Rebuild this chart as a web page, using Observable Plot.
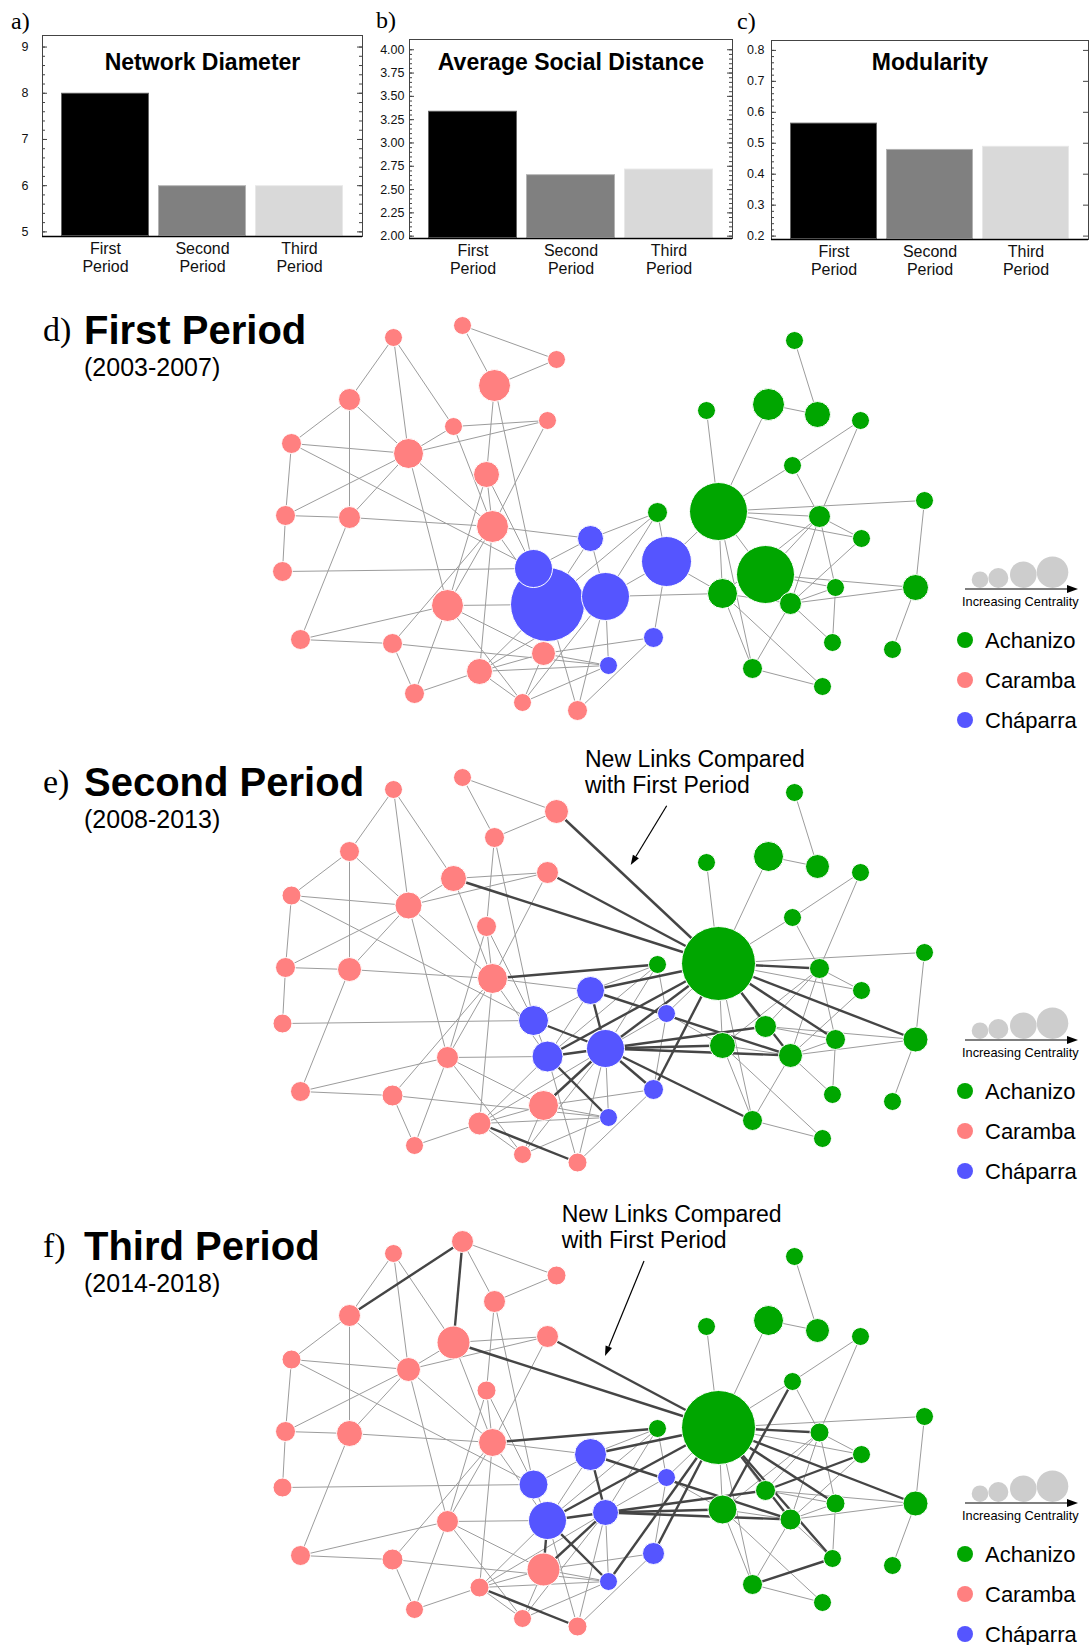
<!DOCTYPE html>
<html><head><meta charset="utf-8">
<script src="https://cdn.jsdelivr.net/npm/d3@7"></script>
<script src="https://cdn.jsdelivr.net/npm/@observablehq/plot@0.6"></script>
<style>
body{margin:0;background:#fff;}
#page{position:relative;width:1089px;height:1645px;overflow:hidden;font-family:"Liberation Sans",Arial,Helvetica,sans-serif;}
</style></head><body><div id="page"></div>
<script>
// ---------- bar chart data ----------
const periods = ["First Period", "Second Period", "Third Period"];
const diameter = [8, 6, 6];
const socialDistance = [3.34, 2.66, 2.72];
const modularity = [0.565, 0.48, 0.49];
const diameterTicks = [5, 6, 7, 8, 9];
const distanceTicks = [2.00, 2.25, 2.50, 2.75, 3.00, 3.25, 3.50, 3.75, 4.00];
const modularityTicks = [0.2, 0.3, 0.4, 0.5, 0.6, 0.7, 0.8];

// ---------- network data ----------
const groups = ["Achanizo", "Caramba", "Cháparra"];
const nodeIds = ["c1","c2","c3","c4","c5","c6","c7","c8","c9","c10","c11","c12","c13","c14","c15","c16","c17","c18","c19","c20","c21","c22",
  "b1","b2","b3","b4","b5","b6","b7",
  "a1","a2","a3","a4","a5","a6","a7","a8","a9","a10","a11","a12","a13","a14","a15","a16","a17","a18","a19","a20"];
const nodeGroup = [...Array(22).fill("Caramba"), ...Array(7).fill("Cháparra"), ...Array(20).fill("Achanizo")];
const layoutX = [393,462,556,494,349,453,547,291,408,486,285,349,492,282,447,300,392,543,479,414,522,577,
  590,533,547,605,666,653,608,
  794,706,768,817,860,792,718,657,819,924,861,765,722,790,835,915,832,892,752,822];
const layoutY = [337,325,359,385,399,426,420,443,453,474,515,517,526,571,605,639,643,653,671,693,702,710,
  538,568,604,596,561,637,665,
  340,410,404,414,420,465,511,512,516,500,538,574,593,603,587,587,642,649,668,686];
const centrality1 = [9,9,9,16,11,9,9,10,15,13,10,11,16,10,16,10,10,12,13,10,9,10,
  13,19,37,24,25,10,9,
  9,9,16,13,9,9,29,10,11,9,9,29,15,11,9,13,9,9,10,9];
const centrality2 = [9,9,12,10,10,13,11,9.5,13.5,10,10,12,15,9.5,11,10,10.5,15,11.5,9,9,9.5,
  14,15,15.5,19,9,10,9,
  9,9,15,12,9,9,37,9,10,9,9,11,13,12,10,12.5,9,9,10,9];
const centrality3 = [9,11,9.5,11,11,16.5,11,9.5,12,9.5,10,13,14,9.5,11,10,10.5,16.5,9.5,9,9,9.5,
  16,14.5,19,13,9,11,9,
  9,9,15,12,9,9,37,9,9.5,9,9,10,14.5,10.5,9.5,12.5,9,9,10,9];
const baseLinks = [
  ["c2","c3"],["c2","c4"],["c4","c3"],["c1","c5"],["c1","c9"],["c1","c6"],["c5","c8"],["c5","c12"],["c5","c9"],
  ["c8","c9"],["c8","c11"],["c8","b2"],["c9","c6"],["c9","c7"],["c6","c7"],["c9","c11"],["c9","c12"],["c9","c13"],["c9","c15"],
  ["c6","c13"],["c4","c10"],["c4","b2"],["c7","c13"],["c10","c13"],["c10","c15"],["c10","b2"],["c11","c12"],["c11","c14"],
  ["c12","c13"],["c12","c16"],["c14","b2"],["c13","b1"],["c13","c15"],["c13","c17"],["c13","b3"],["c13","c19"],
  ["c15","b3"],["c15","c20"],["c15","c18"],["c15","c21"],["c16","c15"],["c16","c17"],["c17","c20"],["c17","b7"],
  ["c19","c20"],["c19","c18"],["c19","b7"],["c19","b3"],["c19","c21"],["c19","b4"],["c18","b6"],["c18","b7"],["c18","c21"],
  ["c21","b4"],["c21","b7"],["c22","b4"],["c22","b6"],["c22","b3"],
  ["b1","b2"],["b1","a8"],["b1","b4"],["b3","b1"],["b4","a8"],["b4","b5"],["b5","a8"],["b5","b6"],["b3","a8"],
  ["b4","b7"],["b4","b3"],["b4","a13"],["b2","b3"],
  ["a1","a4"],["a3","a4"],["a2","a7"],["a3","a7"],["a5","a6"],["a5","a9"],["a6","a7"],["a6","a9"],["a7","a9"],["a7","a10"],
  ["a7","a11"],["a7","b5"],["a7","a12"],["a7","a13"],["a7","a19"],["a9","a12"],["a9","a14"],["a9","a15"],["a9","a11"],["a9","a13"],
  ["a11","a14"],["a10","a16"],["a12","a15"],["a12","a16"],["a14","a15"],["a14","a16"],["a14","a17"],["a15","a17"],["a14","a19"],
  ["a13","a19"],["a13","a20"],["a19","a20"],["a16","a18"],["b5","a13"],["a13","a14"]
];
const newLinks2 = [
  ["c3","a7"],["c7","a7"],["c6","a7"],["c13","a8"],["b1","a7"],["b1","a14"],["b2","b4"],["b3","b4"],["b3","b7"],["b1","b4"],
  ["b4","a7"],["b4","a14"],["b4","b6"],["c18","b4"],["c19","c22"],["b6","a7"],["b3","a7"],["a7","a9"],["a7","a14"],
  ["a7","a16"],["a7","a15"],["b4","a12"],["b4","a19"],["b4","a13"]
];
const newLinks3 = [
  ["c5","c2"],["c2","c6"],["c6","a7"],["c7","a7"],["c13","a8"],["b1","a7"],["b1","b4"],["b1","a14"],["b3","a7"],["b3","b4"],
  ["b3","b7"],["b3","c18"],["c18","b4"],["b7","a7"],["b6","a7"],["b4","a13"],["b4","a14"],["b4","a12"],["c19","c22"],
  ["a7","a9"],["a7","a16"],["a7","a15"],["a7","a14"],["a7","a17"],["a6","a13"],["a11","a12"],["a17","a19"]
];

const FONT = "Liberation Sans, Arial, Helvetica, sans-serif";
const page = document.getElementById("page");

function place(el, left, top) {
  el.style.position = "absolute";
  el.style.left = left + "px";
  el.style.top = top + "px";
  page.appendChild(el);
}

// ---------- bar charts ----------
function barChart(o) {
  const data = periods.map((p, i) => ({period: p, value: o.values[i]}));
  const fw = o.width - o.ml - o.mr;
  const marks = [
    Plot.barY(data, {x: "period", y1: o.domain[0], y2: "value", fill: "period", stroke: "white", strokeOpacity: 0.4, strokeWidth: 2}),
    Plot.frame({stroke: "#444"}),
    Plot.ruleY([o.domain[0]], {stroke: "#000", strokeWidth: 1.3}),
    Plot.tickY(o.minor, {y: d => d, insetRight: fw - 3, stroke: "#444"}),
    Plot.tickY(o.ticks, {y: d => d, insetRight: fw - 5, stroke: "#444"}),
    Plot.tickY(o.rightMinor ? o.minor : [], {y: d => d, insetLeft: fw - 3, stroke: "#444"}),
    Plot.tickY(o.ticks, {y: d => d, insetLeft: fw - 5, stroke: "#444"}),
    Plot.text(o.ticks, {y: d => d, text: o.fmt, frameAnchor: "left", textAnchor: "end", dx: -o.pad, fontSize: 12.5, fill: "#111"}),
    Plot.text([o.title], {frameAnchor: "top", lineAnchor: "top", dy: o.titleDy, fontSize: 23, fontWeight: "bold", fill: "#000"}),
    Plot.text(data, {x: "period", text: d => d.period.replace(" ", "\n"), frameAnchor: "bottom", lineAnchor: "top", dy: o.labelDy, fontSize: 16, lineHeight: 1.15, fill: "#111"})
  ];
  const svg = Plot.plot({
    width: o.width, height: o.height,
    marginLeft: o.ml, marginRight: o.mr, marginTop: o.mt, marginBottom: o.mb,
    style: {fontFamily: FONT, background: "transparent", overflow: "visible"},
    x: {domain: periods, paddingInner: 0.09, paddingOuter: 0.19, axis: null},
    y: {domain: o.domain, axis: null},
    color: {domain: periods, range: ["#000000", "#808080", "#d9d9d9"]},
    marks
  });
  place(svg, o.left, o.top);
}

barChart({left: 0, top: 0, width: 370, height: 290, ml: 42, mr: 8, mt: 35, mb: 54,
  values: diameter, domain: [4.9, 9.25], ticks: diameterTicks, minor: d3.range(5, 9.01, 0.2),
  fmt: d => d3.format("d")(d), pad: 14, title: "Network Diameter", titleDy: 18, labelDy: 4.5, rightMinor: true});
barChart({left: 370, top: 0, width: 370, height: 290, ml: 39, mr: 8, mt: 39, mb: 52,
  values: socialDistance, domain: [1.975, 4.11], ticks: distanceTicks, minor: d3.range(2, 4.001, 0.05),
  fmt: d => d3.format(".2f")(d), pad: 5, title: "Average Social Distance", titleDy: 14, labelDy: 4, rightMinor: true});
barChart({left: 730, top: 0, width: 359, height: 290, ml: 41, mr: 1, mt: 40, mb: 51,
  values: modularity, domain: [0.189, 0.832], ticks: modularityTicks, minor: d3.range(0.2, 0.801, 0.02),
  fmt: d => d3.format(".1f")(d), pad: 7, title: "Modularity", titleDy: 13, labelDy: 4, rightMinor: false});

// ---------- networks ----------
const groupColors = ["#00a600", "#ff8080", "#5555ff"];
function network(top, height, sizes, newLinks) {
  const nodes = nodeIds.map((id, i) => ({id, group: nodeGroup[i], x: layoutX[i], y: layoutY[i], c: sizes[i]}));
  const byId = new Map(nodes.map(d => [d.id, d]));
  const links = pairs => pairs.map(([s, t]) => ({s: byId.get(s), t: byId.get(t)}));
  const pos = {x1: d => d.s.x, y1: d => d.s.y, x2: d => d.t.x, y2: d => d.t.y};
  const svg = Plot.plot({
    width: 1089, height, margin: 0,
    style: {fontFamily: FONT, background: "transparent", overflow: "visible"},
    x: {domain: [0, 1089], range: [0, 1089], axis: null},
    y: {domain: [300, 300 + height], range: [0, height], axis: null},
    r: {type: "linear", domain: [0, 37], range: [0, 37]},
    color: {domain: groups, range: groupColors},
    marks: [
      Plot.link(links(baseLinks), {...pos, stroke: "#9c9c9c", strokeWidth: 1}),
      Plot.link(links(newLinks), {...pos, stroke: "#454545", strokeWidth: 2.4}),
      Plot.dot(nodes, {x: "x", y: "y", r: "c", fill: "group", stroke: "white", strokeWidth: 1})
    ]
  });
  place(svg, 0, top);
}
network(300, 451, centrality1, []);
network(751.7, 464, centrality2, newLinks2);
network(1216, 429, centrality3, newLinks3);

// ---------- overlay text, legends, annotations ----------
const ov = d3.create("svg").attr("width", 1089).attr("height", 1645)
  .style("position", "absolute").style("left", "0px").style("top", "0px")
  .style("font-family", FONT);
const SERIF = "Liberation Serif, Times New Roman, serif";
[["a)", 11, 28.5], ["b)", 376, 28], ["c)", 737, 28.5]].forEach(([t, x, y]) =>
  ov.append("text").attr("x", x).attr("y", y).attr("font-family", SERIF).attr("font-size", 24).text(t));

const panels = [
  {off: 0, leg: 0, label: "d)", title: "First Period", years: "(2003-2007)"},
  {off: 451.7, leg: 451, label: "e)", title: "Second Period", years: "(2008-2013)"},
  {off: 916, leg: 914, label: "f)", title: "Third Period", years: "(2014-2018)"}
];
function arrow(g, x1, y1, x2, y2, head, w) {
  const a = Math.atan2(y2 - y1, x2 - x1);
  const bx = x2 - head * Math.cos(a), by = y2 - head * Math.sin(a);
  g.append("line").attr("x1", x1).attr("y1", y1).attr("x2", bx).attr("y2", by).attr("stroke", "#000").attr("stroke-width", 1.2);
  g.append("polygon").attr("fill", "#000").attr("points",
    [[x2, y2], [bx + w * Math.sin(a), by - w * Math.cos(a)], [bx - w * Math.sin(a), by + w * Math.cos(a)]].map(p => p.join(",")).join(" "));
}
panels.forEach((p, i) => {
  const g = ov.append("g").attr("transform", `translate(0,${p.off})`);
  g.append("text").attr("x", 43).attr("y", 341).attr("font-family", SERIF).attr("font-size", 34).text(p.label);
  g.append("text").attr("x", 84).attr("y", 344).attr("font-size", 40).attr("font-weight", "bold").text(p.title);
  g.append("text").attr("x", 84).attr("y", 376).attr("font-size", 25).text(p.years);
  const L = ov.append("g").attr("transform", `translate(0,${p.leg})`);
  [[980, 8.3], [998.3, 10], [1023.3, 13.3], [1052.5, 15.8]].forEach(([cx, r]) =>
    L.append("circle").attr("cx", cx).attr("cy", 588 - r).attr("r", r).attr("fill", "#cdcdcd"));
  arrow(L, 965, 589, 1078, 589, 11, 4);
  L.append("text").attr("x", 962).attr("y", 606).attr("font-size", 12.8).text("Increasing Centrality");
  groups.forEach((gname, k) => {
    L.append("circle").attr("cx", 965).attr("cy", 640 + 40 * k).attr("r", 8).attr("fill", groupColors[k]);
    L.append("text").attr("x", 985).attr("y", 647.5 + 40 * k).attr("font-size", 22).text(gname);
  });
});
// annotations
[{x: 585, y: 766.7, a: [666.7, 805.7, 630.7, 865]}, {x: 561.7, y: 1221.7, a: [644, 1261, 605, 1356]}].forEach(n => {
  ov.append("text").attr("x", n.x).attr("y", n.y).attr("font-size", 23).text("New Links Compared");
  ov.append("text").attr("x", n.x).attr("y", n.y + 26.6).attr("font-size", 23).text("with First Period");
  arrow(ov, ...n.a, 10, 3.5);
});
page.appendChild(ov.node());
</script></body></html>
